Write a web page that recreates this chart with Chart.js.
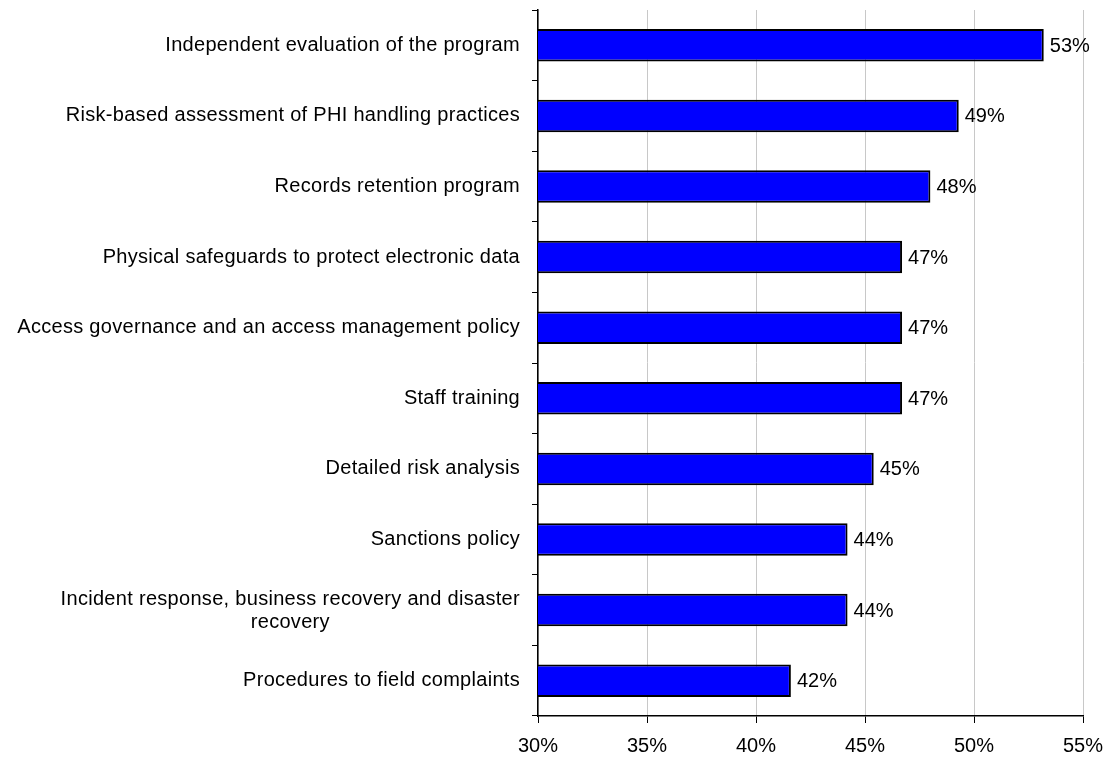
<!DOCTYPE html>
<html>
<head>
<meta charset="utf-8">
<script src="https://cdn.jsdelivr.net/npm/chart.js@4"></script>
<style>
  html, body { margin: 0; padding: 0; background: #fff; }
  #wrap { width: 1107px; height: 757px; }
</style>
</head>
<body>
<div id="wrap"><canvas id="practices"></canvas></div>
<script>
    const categories = [
      'Independent evaluation of the program',
      'Risk-based assessment of PHI handling practices',
      'Records retention program',
      'Physical safeguards to protect electronic data',
      'Access governance and an access management policy',
      'Staff training',
      'Detailed risk analysis',
      'Sanctions policy',
      ['Incident response, business recovery and disaster', 'recovery'],
      'Procedures to field complaints'
    ];
    const shares = [53.2, 49.3, 48.0, 46.7, 46.7, 46.7, 45.4, 44.2, 44.2, 41.6];
    const xTicks = [30, 35, 40, 45, 50, 55];

    const font = {family: '"Liberation Sans", Arial, sans-serif', size: 20};

    // category names drawn by hand so the wrapped one can be centred
    const catLabels = {
      id: 'catLabels',
      afterDraw(chart) {
        const ctx = chart.ctx, y = chart.scales.y;
        const right = y.right - 18, lh = 23;
        ctx.save();
        ctx.font = font.size + 'px ' + font.family;
        ctx.letterSpacing = '0.3px';
        ctx.fillStyle = '#000';
        ctx.textBaseline = 'middle';
        categories.forEach((c, i) => {
          const py = y.getPixelForTick(i);
          if (Array.isArray(c)) {
            const w = Math.max(...c.map(s => ctx.measureText(s).width));
            const cx = right - w / 2;
            ctx.textAlign = 'center';
            c.forEach((s, k) => ctx.fillText(s, cx, py + 1 + (k - (c.length - 1) / 2) * lh));
          } else {
            ctx.textAlign = 'right';
            ctx.fillText(c, right, py);
          }
        });
        ctx.restore();
      }
    };

    // percentage written just past the end of each bar
    const valueLabels = {
      id: 'valueLabels',
      afterDatasetsDraw(chart) {
        const ctx = chart.ctx;
        ctx.save();
        ctx.font = font.size + 'px ' + font.family;
        ctx.fillStyle = '#000';
        ctx.textAlign = 'left';
        ctx.textBaseline = 'middle';
        chart.getDatasetMeta(0).data.forEach((bar, i) => {
          ctx.fillText(Math.round(shares[i]) + '%', bar.x + 6, bar.y + 1);
        });
        ctx.restore();
      }
    };

    const config = {
      type: 'bar',
      data: {
        labels: categories,
        datasets: [{
          data: shares,
          backgroundColor: '#0000FF',
          borderColor: '#000',
          borderWidth: 2,
          borderSkipped: false,
          barPercentage: 1,
          categoryPercentage: 0.46
        }]
      },
      options: {
        indexAxis: 'y',
        responsive: false,
        animation: false,
        layout: {padding: {top: 10, right: 24, left: 0, bottom: 0}},
        plugins: {legend: {display: false}, tooltip: {enabled: false}},
        scales: {
          x: {
            min: 30, max: 55,
            afterBuildTicks: s => { s.ticks = xTicks.map(v => ({value: v})); },
            afterFit: s => { s.height = 41; s.paddingLeft = 0; s.paddingRight = 0; },
            border: {color: '#000', width: 1.5},
            grid: {color: '#c8c8c8', tickColor: '#000', tickLength: 7},
            ticks: {color: '#000', font: font, padding: 11, callback: v => v + '%'}
          },
          y: {
            afterFit: s => { s.width = 538; },
            border: {color: '#000', width: 1.5},
            grid: {offset: true, drawOnChartArea: false, color: '#000', tickLength: 6},
            ticks: {display: false}
          }
        }
      },
      plugins: [catLabels, valueLabels]
    };

    const cv = document.getElementById('practices');
    cv.width = 1107; cv.height = 757;
    var myChart = new Chart(cv, config);
</script>
</body>
</html>
